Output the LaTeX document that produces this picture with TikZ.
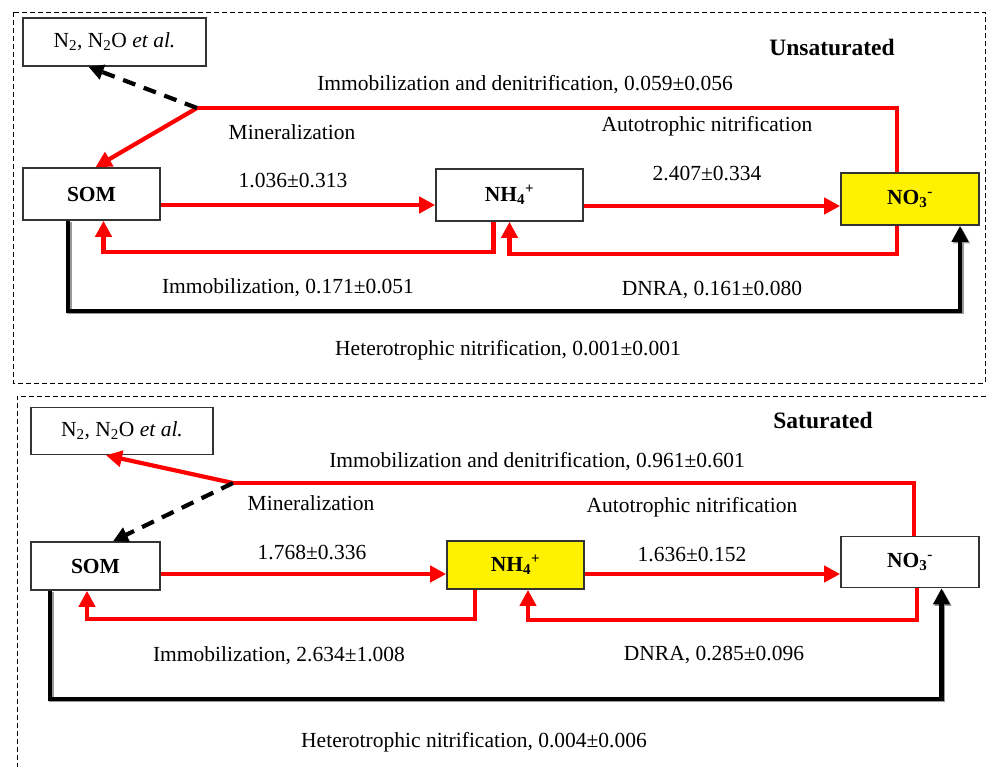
\documentclass[tikz,border=0pt]{standalone}
\usepackage{fontspec}
\setmainfont{Liberation Serif}
\usetikzlibrary{arrows.meta,calc}
\begin{document}
\begin{tikzpicture}[x=1pt,y=-1pt,
  lbl/.style={font=\fontsize{21.5}{24}\selectfont, inner sep=0pt},
  ttl/.style={font=\fontsize{23.5}{26}\selectfont\bfseries, inner sep=0pt},
  box/.style={draw=black!80, line width=1.6pt, inner sep=0pt, font=\fontsize{21.5}{24}\selectfont\bfseries},
  gbox/.style={draw=black!80, line width=1.6pt, inner sep=0pt, font=\fontsize{21.5}{24}\selectfont},
  rl/.style={draw=red, line width=4.2pt},
  ra/.style={rl, -{Triangle[length=16pt,width=16pt]}},
  da/.style={draw=black, line width=4.2pt, dash pattern=on 13pt off 9pt, -{Triangle[length=15pt,width=15pt]}},
  ba/.style={draw=black, line width=4.2pt, -{Triangle[length=16pt,width=16pt]},
     preaction={draw=black!40, line width=4.2pt, transform canvas={shift={(1.5pt,-1.5pt)}}}},
  frame/.style={draw=black, line width=1pt, dash pattern=on 5pt off 3pt}
]
\useasboundingbox (0,0) rectangle (987,766);
\fill[white] (0,0) rectangle (987,766);

% frames
\draw[frame] (13,12) rectangle (985,383);
\draw[frame] (17,800) -- (17,396) -- (995,396);

% ===== Top panel =====
\node[gbox, minimum width=183pt, minimum height=48pt] (n2a) at (114.5,42) {N\textsubscript{2}, N\textsubscript{2}O \textit{et al.}};
\node[box, minimum width=137pt, minimum height=52pt] (soma) at (91.5,194) {SOM};
\node[box, minimum width=147pt, minimum height=52pt] (nh4a) at (509.5,195) {NH\textsubscript{4}\textsuperscript{+}};
\node[box, fill=yellow, minimum width=138pt, minimum height=52pt] (no3a) at (910,199) {NO\textsubscript{3}\textsuperscript{-}};
\coordinate (j1) at (197,108);

\node[ttl] (ta) at (832,47) {Unsaturated};
\node[lbl] (la1) at (525,85) {Immobilization and denitrification, 0.059±0.056};
\node[lbl] (la2) at (292,132) {Mineralization};
\node[lbl] (la3) at (707,126) {Autotrophic nitrification};
\node[lbl] (la4) at (293,180) {1.036±0.313};
\node[lbl] (la5) at (707,173) {2.407±0.334};
\node[lbl] (la6) at (288,288) {Immobilization, 0.171±0.051};
\node[lbl] (la7) at (712,290) {DNRA, 0.161±0.080};
\node[lbl] (la8) at (508,350) {Heterotrophic nitrification, 0.001±0.001};

\draw[ba] ([xshift=-23.5pt]soma.south) -- ++(0,90) -| ([xshift=50pt]no3a.south);
\draw[rl] (j1) -| ([xshift=-13pt]no3a.north);
\draw[ra] (j1) -- ([xshift=4pt]soma.north);
\draw[da] (j1) -- ([xshift=-26pt]n2a.south);
\draw[ra] ([yshift=-11pt]soma.east) -- ([yshift=-11pt]soma.east -| nh4a.west);
\draw[ra] ([yshift=-11pt]nh4a.east) -- ([yshift=-11pt]nh4a.east -| no3a.west);
\draw[ra] ([xshift=-16pt]nh4a.south) -- ++(0,30) -| ([xshift=12pt]soma.south);
\draw[ra] ([xshift=-13pt]no3a.south) -- ++(0,28) -| ([xshift=0pt]nh4a.south);

% ===== Bottom panel =====
\node[gbox, minimum width=182pt, minimum height=47pt] (n2b) at (122,431) {N\textsubscript{2}, N\textsubscript{2}O \textit{et al.}};
\node[box, minimum width=129pt, minimum height=48pt] (somb) at (95.5,566) {SOM};
\node[box, fill=yellow, minimum width=137pt, minimum height=48pt] (nh4b) at (515.5,565) {NH\textsubscript{4}\textsuperscript{+}};
\node[box, minimum width=138pt, minimum height=51pt] (no3b) at (910,562) {NO\textsubscript{3}\textsuperscript{-}};
\coordinate (j2) at (233,483);

\node[ttl] (tb) at (823,420) {Saturated};
\node[lbl] (lb1) at (537,462) {Immobilization and denitrification, 0.961±0.601};
\node[lbl] (lb2) at (311,503) {Mineralization};
\node[lbl] (lb3) at (692,507) {Autotrophic nitrification};
\node[lbl] (lb4) at (312,552) {1.768±0.336};
\node[lbl] (lb5) at (692,554) {1.636±0.152};
\node[lbl] (lb6) at (279,656) {Immobilization, 2.634±1.008};
\node[lbl] (lb7) at (714,655) {DNRA, 0.285±0.096};
\node[lbl] (lb8) at (474,742) {Heterotrophic nitrification, 0.004±0.006};

\draw[ba] ([xshift=-45.5pt]somb.south) -- ++(0,108) -| ([xshift=31.5pt]no3b.south);
\draw[rl] (j2) -| ([xshift=4pt]no3b.north);
\draw[ra] (j2) -- ([xshift=-16pt]n2b.south);
\draw[da] (j2) -- ([xshift=17.5pt]somb.north);
\draw[ra] ([yshift=-8pt]somb.east) -- ([yshift=-8pt]somb.east -| nh4b.west);
\draw[ra] ([yshift=-9pt]nh4b.east) -- ([yshift=-9pt]nh4b.east -| no3b.west);
\draw[ra] ([xshift=-40.5pt]nh4b.south) -- ++(0,29) -| ([xshift=-8.5pt]somb.south);
\draw[ra] ([xshift=7pt]no3b.south) -- ++(0,31.5) -| ([xshift=12.5pt]nh4b.south);
\end{tikzpicture}
\end{document}
